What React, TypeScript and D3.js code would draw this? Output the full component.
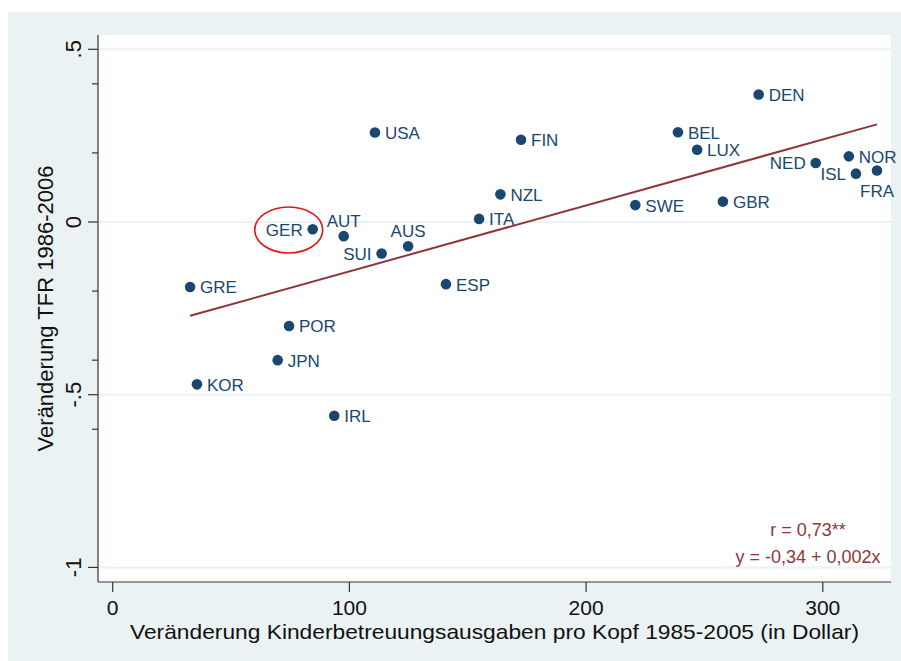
import { useRef, useEffect } from 'react'
import * as d3 from 'd3'

// countries, childcare spending change (x) and TFR change (y)
const countries = ['GRE', 'KOR', 'JPN', 'POR', 'IRL', 'GER', 'AUT', 'SUI', 'AUS', 'USA', 'ESP', 'ITA',
  'NZL', 'FIN', 'SWE', 'BEL', 'LUX', 'GBR', 'DEN', 'NED', 'NOR', 'ISL', 'FRA']
const spending = [32.7, 35.6, 69.7, 74.5, 93.6, 84.5, 97.6, 113.6, 124.8, 110.8, 140.8, 154.8,
  163.8, 172.5, 220.8, 238.8, 246.9, 257.8, 272.9, 297.0, 311.0, 314.0, 322.9]
const tfrChange = [-0.188, -0.47, -0.40, -0.301, -0.561, -0.021, -0.041, -0.091, -0.070, 0.259, -0.180, 0.009,
  0.080, 0.238, 0.049, 0.260, 0.209, 0.059, 0.369, 0.171, 0.190, 0.140, 0.149]

const xTicks = [0, 100, 200, 300]
const yTicks = [0.5, 0, -0.5, -1]
const yTickLabels = ['.5', '0', '-.5', '-1']
const yMinorTicks = [0.4, 0.2, -0.2, -0.4, -0.6]

// fitted line
const fitIntercept = -0.334
const fitSlope = 0.00191

const annotations = ['r = 0,73**', 'y = -0,34 + 0,002x']

// clock position of each marker label (default 3 o'clock)
const labelPos: Record<string, number> = { GER: 9, SUI: 9, NED: 9, ISL: 9, AUT: 12, AUS: 12, FRA: 6 }

const navy = '#1A476F'
const maroon = '#90353B'
const bg = '#EAF2F3'
const font = '"Liberation Sans", Arial, sans-serif'

function App() {
  const ref = useRef<SVGSVGElement>(null)
  useEffect(() => {
    const svg = d3.select(ref.current)
    svg.selectAll('*').remove()
    const width = 901, height = 661
    const plot = { left: 98, right: 891, top: 35, bottom: 582 }

    const x = d3.scaleLinear().domain([0, 300]).range([112.7, 822.8])
    const y = d3.scaleLinear().domain([-1, 0.5]).range([567.4, 49.3])

    svg.append('rect').attr('x', 0).attr('y', 0).attr('width', width).attr('height', height).attr('fill', 'white')
    svg.append('rect').attr('x', 8).attr('y', 12).attr('width', width - 8).attr('height', height - 12).attr('fill', bg)
    svg.append('rect').attr('x', plot.left).attr('y', plot.top)
      .attr('width', plot.right - plot.left).attr('height', plot.bottom - plot.top).attr('fill', 'white')

    // grid
    svg.selectAll('.grid').data(yTicks).enter().append('line')
      .attr('x1', plot.left).attr('x2', plot.right)
      .attr('y1', d => y(d)).attr('y2', d => y(d))
      .attr('stroke', bg).attr('stroke-width', 2)

    // y axis
    svg.append('line').attr('x1', plot.left).attr('x2', plot.left).attr('y1', plot.top).attr('y2', plot.bottom)
      .attr('stroke', '#333').attr('stroke-width', 1.2)
    svg.selectAll('.ytick').data(yTicks).enter().append('line')
      .attr('x1', plot.left - 10).attr('x2', plot.left).attr('y1', d => y(d)).attr('y2', d => y(d))
      .attr('stroke', '#333').attr('stroke-width', 1.2)
    svg.selectAll('.yminor').data(yMinorTicks).enter().append('line')
      .attr('x1', plot.left - 6).attr('x2', plot.left).attr('y1', d => y(d)).attr('y2', d => y(d))
      .attr('stroke', '#333').attr('stroke-width', 1.2)
    svg.selectAll('.ylab').data(yTicks).enter().append('text')
      .attr('transform', d => 'translate(81,' + y(d) + ')rotate(-90)')
      .attr('text-anchor', 'middle')
      .style('font', '22px ' + font).attr('fill', '#111')
      .text((d, i) => yTickLabels[i])
    svg.append('text')
      .attr('transform', 'translate(53,' + (plot.top + plot.bottom) / 2 + ')rotate(-90)')
      .attr('text-anchor', 'middle')
      .style('font', '22px ' + font).attr('fill', '#111')
      .text('Veränderung TFR 1986-2006')

    // x axis
    svg.append('line').attr('x1', plot.left).attr('x2', plot.right).attr('y1', plot.bottom).attr('y2', plot.bottom)
      .attr('stroke', '#333').attr('stroke-width', 1.2)
    svg.selectAll('.xtick').data(xTicks).enter().append('line')
      .attr('x1', d => x(d)).attr('x2', d => x(d)).attr('y1', plot.bottom).attr('y2', plot.bottom + 10)
      .attr('stroke', '#333').attr('stroke-width', 1.2)
    svg.selectAll('.xlab').data(xTicks).enter().append('text')
      .attr('x', d => x(d)).attr('y', 615)
      .attr('text-anchor', 'middle')
      .style('font', '21px ' + font).attr('fill', '#111')
      .text(d => d)
    svg.append('text')
      .attr('x', (plot.left + plot.right) / 2).attr('y', 639)
      .attr('text-anchor', 'middle')
      .attr('textLength', 729).attr('lengthAdjust', 'spacingAndGlyphs')
      .style('font', '21px ' + font).attr('fill', '#111')
      .text('Veränderung Kinderbetreuungsausgaben pro Kopf 1985-2005 (in Dollar)')

    // fit line
    const xMin = d3.min(spending) as number, xMax = d3.max(spending) as number
    svg.append('line')
      .attr('x1', x(xMin)).attr('y1', y(fitIntercept + fitSlope * xMin))
      .attr('x2', x(xMax)).attr('y2', y(fitIntercept + fitSlope * xMax))
      .attr('stroke', maroon).attr('stroke-width', 2)

    // points
    const data = countries.map((c, i) => ({ c, x: spending[i], y: tfrChange[i] }))
    svg.selectAll('.pt').data(data).enter().append('circle')
      .attr('cx', d => x(d.x)).attr('cy', d => y(d.y)).attr('r', 5.3)
      .attr('fill', navy)
    svg.selectAll('.lbl').data(data).enter().append('text')
      .attr('x', d => {
        const p = labelPos[d.c] || 3
        if (p === 9) return x(d.x) - 10
        if (p === 12 || p === 6) return x(d.x)
        return x(d.x) + 10
      })
      .attr('y', d => {
        const p = labelPos[d.c] || 3
        if (p === 12) return y(d.y) - 9.5
        if (p === 6) return y(d.y) + 26.5
        return y(d.y) + 6.5
      })
      .attr('text-anchor', d => {
        const p = labelPos[d.c] || 3
        if (p === 9) return 'end'
        if (p === 12 || p === 6) return 'middle'
        return 'start'
      })
      .style('font', '17px ' + font).attr('fill', navy)
      .text(d => d.c)

    // highlight Germany
    const ger = data.find(d => d.c === 'GER')!
    svg.append('ellipse')
      .attr('cx', x(ger.x) - 24).attr('cy', y(ger.y) + 0.7).attr('rx', 34).attr('ry', 23)
      .attr('fill', 'none').attr('stroke', '#E8141B').attr('stroke-width', 1.6)

    // annotation
    svg.selectAll('.ann').data(annotations).enter().append('text')
      .attr('x', 808).attr('y', (d, i) => 536 + i * 27)
      .attr('text-anchor', 'middle')
      .style('font', '18px ' + font).attr('fill', maroon)
      .text(d => d)
  }, [])

  return (
    <svg ref={ref} width={901} height={661}
      style={{ position: 'fixed', left: 0, top: 0, display: 'block' }} />
  )
}

export default App
